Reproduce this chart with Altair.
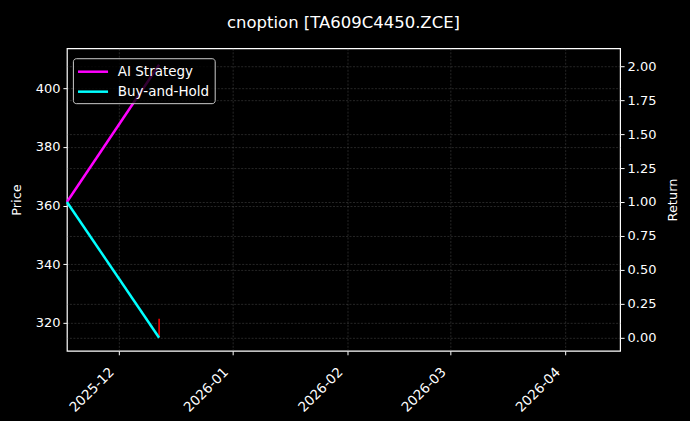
import altair as alt
import pandas as pd

# Data
strategy_names = ["AI Strategy", "Buy-and-Hold"]
line_dates = ["2025-11-17T00:00:00", "2025-12-12T00:00:00"]
ai_returns = [1.0, 2.01]
bh_returns = [1.0, 0.0]
candle_date = ["2025-12-12T00:00:00"]
candle_high = [321.4]
candle_low = [315.2]
price_ticks = [320, 340, 360, 380, 400]
return_ticks = [0.0, 0.25, 0.5, 0.75, 1.0, 1.25, 1.5, 1.75, 2.0]
month_ticks = [(2025, 12), (2026, 1), (2026, 2), (2026, 3), (2026, 4)]

lines_df = pd.DataFrame({
    "date": line_dates * 2,
    "ret": ai_returns + bh_returns,
    "series": [strategy_names[0]] * 2 + [strategy_names[1]] * 2,
})
candle_df = pd.DataFrame({"date": candle_date, "high": candle_high, "low": candle_low})

FONT = "DejaVu Sans"
FS = 13
grid_color = "#6a6a6a"

x_enc = alt.X(
    "date:T",
    scale=alt.Scale(domain=[alt.DateTime(year=2025, month=11, date=17),
                            alt.DateTime(year=2026, month=4, date=16)]),
    axis=alt.Axis(
        title=None,
        values=[alt.DateTime(year=y, month=m, date=1) for y, m in month_ticks],
        format="%Y-%m",
        labelAngle=-45,
        labelAlign="right",
        labelBaseline="top",
        labelFontSize=13.5,
        labelPadding=10,
        labelOffset=-12,
        grid=True,
    ),
)

candle = alt.Chart(candle_df).mark_rule(color="#ff0000", strokeWidth=1.5).encode(
    x=x_enc,
    y=alt.Y(
        "high:Q",
        scale=alt.Scale(domain=[310.5, 413.6], nice=False, zero=False),
        axis=alt.Axis(title="Price", orient="left", values=price_ticks, format="d",
                      grid=True, titlePadding=12),
    ),
    y2="low:Q",
)

lines = alt.Chart(lines_df).mark_line(strokeWidth=2.5).encode(
    x=x_enc,
    y=alt.Y(
        "ret:Q",
        scale=alt.Scale(domain=[-0.096, 2.132], nice=False, zero=False),
        axis=alt.Axis(title="Return", orient="right", values=return_ticks, format=".2f",
                      grid=True, titlePadding=24, titleAngle=270),
    ),
    color=alt.Color(
        "series:N",
        scale=alt.Scale(domain=strategy_names, range=["#ff00ff", "#00ffff"]),
        legend=alt.Legend(
            title=None,
            orient="none",
            legendX=6,
            legendY=10,
            fillColor="rgba(0,0,0,0.8)",
            strokeColor="#cccccc",
            cornerRadius=3,
            padding=5,
            symbolType="M-1.2,0H3.1",
            symbolStrokeWidth=2.5,
            symbolSize=196,
            labelOffset=23,
            labelFontSize=13.5,
            labelColor="white",
            labelFont=FONT,
            rowPadding=5,
        ),
    ),
    detail="series:N",
)

chart = alt.layer(candle, lines).resolve_scale(y="independent").properties(
    width=554,
    height=303,
    title=alt.TitleParams(
        "cnoption [TA609C4450.ZCE]",
        color="white",
        font=FONT,
        fontSize=16.5,
        fontWeight="normal",
        anchor="middle",
        offset=17,
    ),
    background="black",
    autosize=alt.AutoSizeParams(type="none"),
    padding={"left": 59, "top": 40, "right": 62, "bottom": 70},
).configure_view(
    stroke="white", strokeWidth=1.2, fill="black"
).configure_axis(
    domain=False,
    labelColor="white",
    labelFont=FONT,
    labelFontSize=FS,
    titleColor="white",
    titleFont=FONT,
    titleFontSize=FS,
    titleFontWeight="normal",
    tickColor="white",
    tickSize=4,
    tickWidth=1,
    labelPadding=3,
    gridColor=grid_color,
    gridOpacity=0.6,
    gridWidth=0.6,
    gridDash=[2, 1.5],
)


class BlackPageTemplate:
    """Wraps Altair's standard HTML template and paints the page body black."""

    def render(self, **kw):
        from altair.utils.html import TEMPLATES
        html = TEMPLATES["standard"].render(**kw)
        return html.replace("<style>", "<style>\n    body { background: #000; }", 1)


try:
    chart.save("out.html", embed_options={"renderer": "svg", "actions": False},
               template=BlackPageTemplate())
except Exception:
    chart.save("out.html", embed_options={"renderer": "svg", "actions": False})
